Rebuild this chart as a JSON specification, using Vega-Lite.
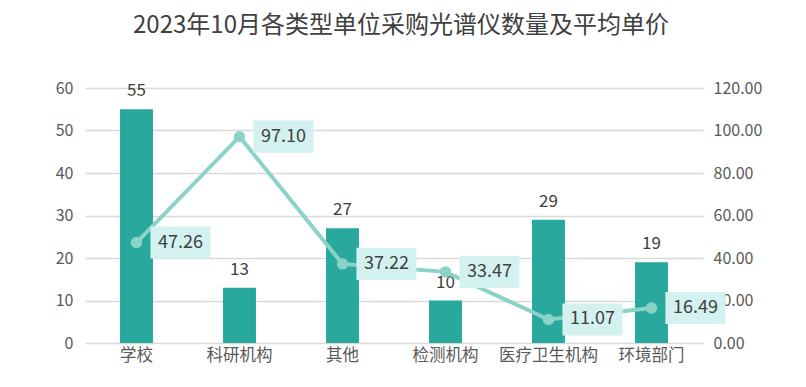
{
  "$schema": "https://vega.github.io/schema/vega-lite/v6.json",
  "width": 618,
  "height": 255,
  "autosize": {"type": "none"},
  "padding": {"left": 85, "top": 88, "right": 103, "bottom": 44},
  "title": {
    "text": "2023年10月各类型单位采购光谱仪数量及平均单价",
    "fontSize": 24,
    "font": "Noto Sans CJK SC",
    "fontWeight": "normal",
    "color": "#404040",
    "anchor": "middle",
    "offset": 42,
    "dx": 7
  },
  "config": {"view": {"stroke": null}, "font": "Noto Sans CJK SC"},
  "data": {
    "values": [
      {"type": "学校", "count": 55, "avg": 47.26},
      {"type": "科研机构", "count": 13, "avg": 97.10},
      {"type": "其他", "count": 27, "avg": 37.22},
      {"type": "检测机构", "count": 10, "avg": 33.47},
      {"type": "医疗卫生机构", "count": 29, "avg": 11.07},
      {"type": "环境部门", "count": 19, "avg": 16.49}
    ]
  },
  "encoding": {
    "x": {
      "field": "type",
      "type": "nominal",
      "sort": null,
      "title": null,
      "scale": {"paddingInner": 0.68, "paddingOuter": 0.34},
      "axis": {
        "labelAngle": 0,
        "labelFontSize": 16.5,
        "labelColor": "#595959",
        "domain": false,
        "ticks": false,
        "labelPadding": 4
      }
    }
  },
  "layer": [
    {
      "encoding": {
        "y": {
          "field": "count",
          "type": "quantitative",
          "title": null,
          "scale": {"domain": [0, 60], "nice": false},
          "axis": {
            "values": [0, 10, 20, 30, 40, 50, 60],
            "labelFontSize": 16,
            "labelColor": "#595959",
            "domain": false,
            "ticks": false,
            "labelPadding": 12,
            "grid": true,
            "gridColor": "#d9d9d9",
            "gridWidth": 1.5
          }
        }
      },
      "layer": [
        {"mark": {"type": "bar", "color": "#29a99d"}},
        {
          "mark": {"type": "text", "baseline": "alphabetic", "dy": -13, "fontSize": 17, "color": "#404040"},
          "encoding": {"text": {"field": "count", "type": "quantitative"}}
        }
      ]
    },
    {
      "encoding": {
        "y": {
          "field": "avg",
          "type": "quantitative",
          "title": null,
          "scale": {"domain": [0, 120], "nice": false},
          "axis": {
            "orient": "right",
            "values": [0, 20, 40, 60, 80, 100, 120],
            "format": ".2f",
            "labelFontSize": 16,
            "labelColor": "#595959",
            "domain": false,
            "ticks": false,
            "grid": false,
            "labelPadding": 10
          }
        }
      },
      "layer": [
        {"mark": {"type": "line", "color": "#8bd3c8", "strokeWidth": 4}},
        {"mark": {"type": "point", "filled": true, "color": "#8bd3c8", "size": 130, "opacity": 1}},
        {
          "mark": {
            "type": "point",
            "filled": true,
            "color": "#d3f2ef",
            "opacity": 1,
            "size": 900,
            "shape": "M0.93,-1.07L4.93,-1.07L4.93,1.07L0.93,1.07Z"
          }
        },
        {
          "mark": {"type": "text", "align": "center", "baseline": "middle", "dx": 44, "fontSize": 18, "color": "#404040"},
          "encoding": {"text": {"field": "avg", "type": "quantitative", "format": ".2f"}}
        }
      ]
    }
  ],
  "resolve": {"scale": {"y": "independent"}}
}
